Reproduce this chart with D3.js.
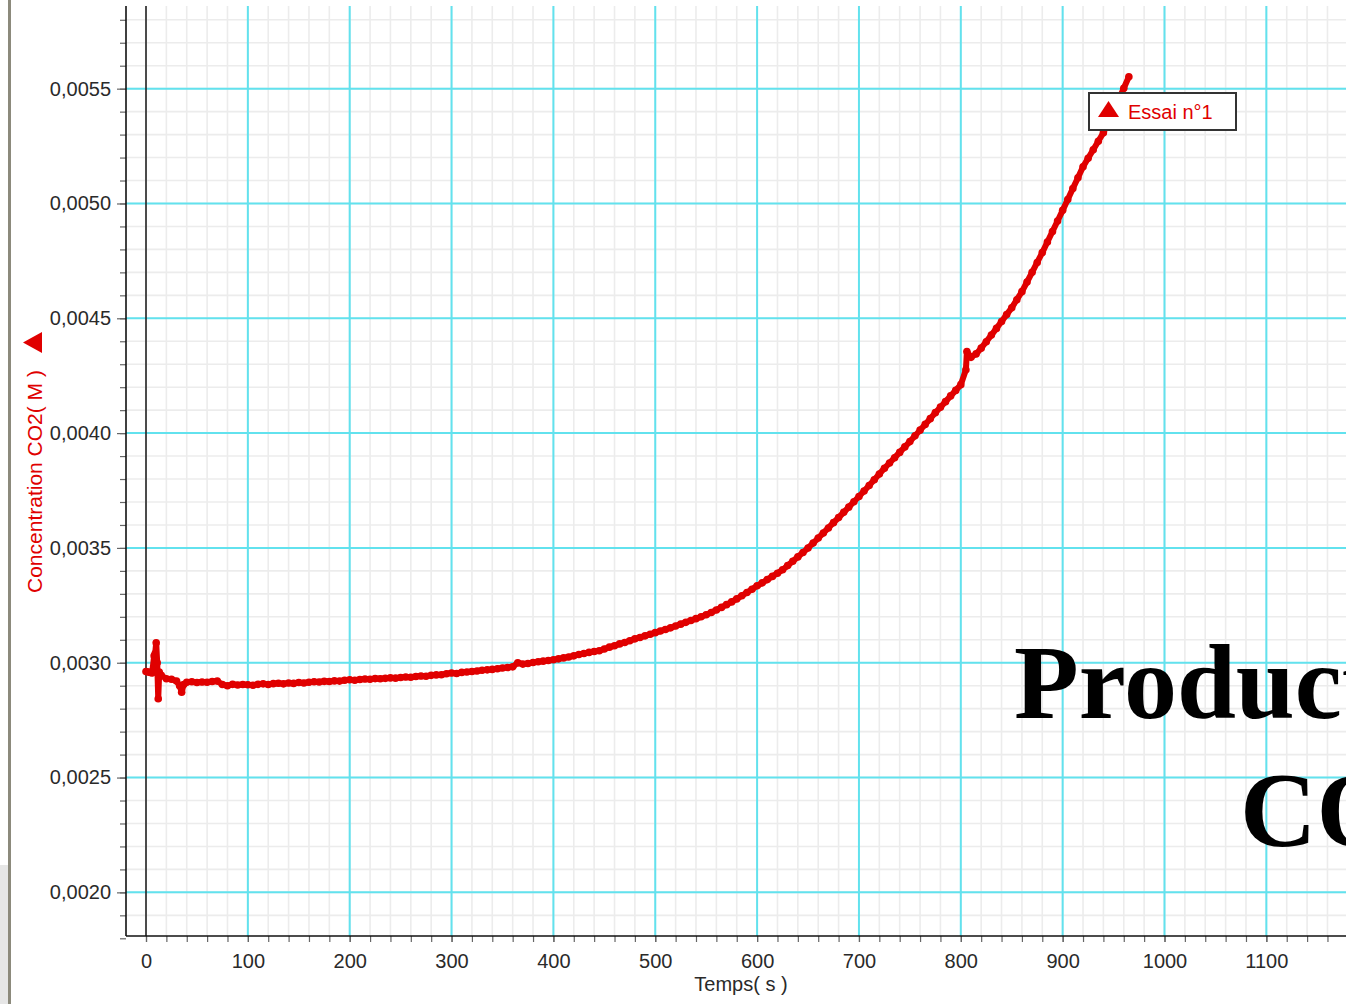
<!DOCTYPE html>
<html>
<head>
<meta charset="utf-8">
<script src="https://cdn.jsdelivr.net/npm/d3@7"></script>
<style>
  html, body { margin: 0; padding: 0; background: #ffffff; overflow: hidden; }
  svg { display: block; }
</style>
</head>
<body>
<svg id="chart" width="1346" height="1004"></svg>
<script>
// Temps (s) of each acquisition
const temps = [
  0, 2, 4, 6, 8, 9, 10, 11, 12, 13, 15, 20, 25, 30, 33, 35, 37, 40, 45, 50,
  55, 60, 65, 70, 75, 80, 85, 90, 95, 100, 105, 110, 115, 120, 125, 130, 135, 140, 145, 150,
  155, 160, 165, 170, 175, 180, 185, 190, 195, 200, 205, 210, 215, 220, 225, 230, 235, 240, 245, 250,
  255, 260, 265, 270, 275, 280, 285, 290, 295, 300, 305, 310, 315, 320, 325, 330, 335, 340, 345, 350,
  355, 360, 365, 370, 375, 380, 385, 390, 395, 400, 405, 410, 415, 420, 425, 430, 435, 440, 445, 450,
  455, 460, 465, 470, 475, 480, 485, 490, 495, 500, 505, 510, 515, 520, 525, 530, 535, 540, 545, 550,
  555, 560, 565, 570, 575, 580, 585, 590, 595, 600, 605, 610, 615, 620, 625, 630, 635, 640, 645, 650,
  655, 660, 665, 670, 675, 680, 685, 690, 695, 700, 705, 710, 715, 720, 725, 730, 735, 740, 745, 750,
  755, 760, 765, 770, 775, 780, 785, 790, 795, 800, 805, 806, 810, 815, 820, 825, 830, 835, 840, 845,
  850, 855, 860, 865, 870, 875, 880, 885, 890, 895, 900, 905, 910, 915, 920, 925, 930, 935, 940, 945,
  950, 955, 960, 965
];

// Concentration CO2 (mol/L), Essai n°1
const concentration = [
  0.002962, 0.002960, 0.002958, 0.002955, 0.003030, 0.003040, 0.003087, 0.003000, 0.002843, 0.002960,
  0.002945, 0.002930, 0.002928, 0.002920, 0.002900, 0.002872, 0.002905, 0.002915, 0.002917, 0.002914,
  0.002916, 0.002915, 0.002918, 0.002920, 0.002905, 0.002900, 0.002906, 0.002903, 0.002905, 0.002904,
  0.002902, 0.002906, 0.002908, 0.002905, 0.002909, 0.002911, 0.002908, 0.002912, 0.002910, 0.002914,
  0.002912, 0.002915, 0.002917, 0.002916, 0.002919, 0.002918, 0.002921, 0.002920, 0.002924, 0.002926,
  0.002924, 0.002927, 0.002929, 0.002928, 0.002931, 0.002930, 0.002932, 0.002934, 0.002933, 0.002936,
  0.002938, 0.002937, 0.002940, 0.002942, 0.002941, 0.002945, 0.002947, 0.002948, 0.002952, 0.002955,
  0.002953, 0.002958, 0.002960, 0.002962, 0.002964, 0.002967, 0.002969, 0.002971, 0.002974, 0.002977,
  0.002979, 0.002982, 0.003000, 0.002994, 0.002997, 0.003001, 0.003004, 0.003007, 0.003010, 0.003013,
  0.003017, 0.003021, 0.003025, 0.003030, 0.003036, 0.003040, 0.003045, 0.003049, 0.003052, 0.003060,
  0.003068, 0.003074, 0.003082, 0.003088, 0.003096, 0.003104, 0.003110, 0.003117, 0.003124, 0.003131,
  0.003138, 0.003145, 0.003152, 0.003160, 0.003168, 0.003176, 0.003184, 0.003192, 0.003200, 0.003209,
  0.003219, 0.003230, 0.003241, 0.003253, 0.003265, 0.003278, 0.003292, 0.003306, 0.003320, 0.003335,
  0.003348, 0.003362, 0.003376, 0.003390, 0.003405, 0.003423, 0.003442, 0.003461, 0.003480, 0.003500,
  0.003521, 0.003543, 0.003565, 0.003587, 0.003610, 0.003632, 0.003655, 0.003678, 0.003701, 0.003724,
  0.003748, 0.003772, 0.003797, 0.003822, 0.003847, 0.003870, 0.003893, 0.003916, 0.003940, 0.003963,
  0.003988, 0.004013, 0.004038, 0.004063, 0.004089, 0.004113, 0.004137, 0.004162, 0.004186, 0.004211,
  0.004276, 0.004355, 0.004330, 0.004345, 0.004370, 0.004398, 0.004427, 0.004456, 0.004486, 0.004516,
  0.004546, 0.004581, 0.004616, 0.004658, 0.004700, 0.004743, 0.004786, 0.004832, 0.004878, 0.004924,
  0.004970, 0.005017, 0.005065, 0.005112, 0.005160, 0.005197, 0.005234, 0.005271, 0.005308, 0.005356,
  0.005404, 0.005452, 0.005502, 0.005552
];

// Axis ticks
const xMajorTicks = [0, 100, 200, 300, 400, 500, 600, 700, 800, 900, 1000, 1100];
const xMinorTicks = d3.range(-20, 1200, 20);
const yMajorTicks = [0.0020, 0.0025, 0.0030, 0.0035, 0.0040, 0.0045, 0.0050, 0.0055];
const yMinorTicks = d3.range(18, 59).map(k => k / 10000);

const seriesName = "Essai n°1";
const xTitle = "Temps( s )";
const yTitle = "Concentration CO2( M )";
const overlayLines = ["Production", "CO2"];

const svg = d3.select("#chart");
const W = 1346, H = 1004;
const plot = { left: 126, top: 6, bottom: 936, right: 1346 };

const x = d3.scaleLinear().domain([-19.64, 1178.2]).range([plot.left, plot.right]);
const y = d3.scaleLinear().domain([0.00181, 0.00586]).range([plot.bottom, plot.top]);

const frLocale = d3.formatLocale({ decimal: ",", thousands: " ", grouping: [3], currency: ["", " €"] });
const fmtY = frLocale.format(".4f");

const red = "#e00000";
const font = "'Liberation Sans', Arial, sans-serif";

// window frame at the left
svg.append("rect").attr("x", 0).attr("y", 865).attr("width", 9).attr("height", H - 865).attr("fill", "#e6e6e6");
svg.append("rect").attr("x", 8).attr("y", 0).attr("width", 3).attr("height", H).attr("fill", "#8c8a7c");

svg.append("defs").append("clipPath").attr("id", "plotClip")
  .append("rect").attr("x", plot.left).attr("y", plot.top)
  .attr("width", plot.right - plot.left).attr("height", plot.bottom - plot.top);

const grid = svg.append("g").attr("clip-path", "url(#plotClip)");

// minor grid
grid.append("g").selectAll("line").data(xMinorTicks).join("line")
  .attr("x1", d => x(d)).attr("x2", d => x(d)).attr("y1", plot.top).attr("y2", plot.bottom)
  .attr("stroke", "#ececec").attr("stroke-width", 1.6);
grid.append("g").selectAll("line").data(yMinorTicks).join("line")
  .attr("y1", d => y(d)).attr("y2", d => y(d)).attr("x1", plot.left).attr("x2", plot.right)
  .attr("stroke", "#ececec").attr("stroke-width", 1.6);

// major grid
grid.append("g").selectAll("line").data(xMajorTicks.filter(d => d !== 0)).join("line")
  .attr("x1", d => x(d)).attr("x2", d => x(d)).attr("y1", plot.top).attr("y2", plot.bottom)
  .attr("stroke", "#62e2ee").attr("stroke-width", 2);
grid.append("g").selectAll("line").data(yMajorTicks).join("line")
  .attr("y1", d => y(d)).attr("y2", d => y(d)).attr("x1", plot.left).attr("x2", plot.right)
  .attr("stroke", "#62e2ee").attr("stroke-width", 2);

// vertical line at t = 0
grid.append("line").attr("x1", x(0)).attr("x2", x(0)).attr("y1", plot.top).attr("y2", plot.bottom)
  .attr("stroke", "#222").attr("stroke-width", 1.6);

// overlay title text
const over = svg.append("g").attr("font-family", "'Liberation Serif', 'Times New Roman', serif")
  .attr("font-weight", "bold").attr("font-size", 106).attr("fill", "#000");
over.append("text").attr("x", 1014).attr("y", 718).text(overlayLines[0]);
over.append("text").attr("x", 1240).attr("y", 846).text(overlayLines[1]);

// data series
const pts = temps.map((t, i) => [t, concentration[i]]);
const series = svg.append("g").attr("clip-path", "url(#plotClip)");
series.append("path").datum(pts)
  .attr("d", d3.line().x(d => x(d[0])).y(d => y(d[1])))
  .attr("fill", "none").attr("stroke", red).attr("stroke-width", 6).attr("stroke-linejoin", "round")
  .attr("stroke-linecap", "round");
series.append("g").selectAll("circle").data(pts).join("circle")
  .attr("cx", d => x(d[0])).attr("cy", d => y(d[1])).attr("r", 3.8).attr("fill", red);

// axes
const yAxisMinor = d3.axisLeft(y).tickValues(yMinorTicks).tickSize(6).tickFormat("");
const yAxis = d3.axisLeft(y).tickValues(yMajorTicks).tickSize(9).tickPadding(6).tickFormat(fmtY);
const xAxisMinor = d3.axisBottom(x).tickValues(xMinorTicks.filter(d => d >= -10)).tickSize(6).tickFormat("");
const xAxis = d3.axisBottom(x).tickValues(xMajorTicks).tickSize(6).tickPadding(12).tickFormat(d3.format("d"));

function styleAxis(g) {
  g.select(".domain").remove();
  g.selectAll(".tick line").attr("stroke", "#666").attr("stroke-width", 1.2);
  g.selectAll(".tick text").attr("fill", "#2a2a2a").attr("font-family", font).attr("font-size", 20);
}

svg.append("g").attr("transform", `translate(${plot.left},0)`).call(yAxisMinor).call(styleAxis);
svg.append("g").attr("transform", `translate(${plot.left},0)`).call(yAxis).call(styleAxis);
svg.append("g").attr("transform", `translate(0,${plot.bottom})`).call(xAxisMinor).call(styleAxis);
svg.append("g").attr("transform", `translate(0,${plot.bottom})`).call(xAxis).call(styleAxis);

// axis lines
svg.append("line").attr("x1", plot.left).attr("x2", plot.left).attr("y1", plot.top).attr("y2", plot.bottom)
  .attr("stroke", "#111").attr("stroke-width", 1.6);
svg.append("line").attr("x1", plot.left).attr("x2", plot.right).attr("y1", plot.bottom).attr("y2", plot.bottom)
  .attr("stroke", "#111").attr("stroke-width", 1.6);

// axis titles
svg.append("text").attr("x", 741).attr("y", 991).attr("text-anchor", "middle")
  .attr("font-family", font).attr("font-size", 20).attr("fill", "#2a2a2a").text(xTitle);

const yt = svg.append("g").attr("transform", "translate(42,593) rotate(-90)");
yt.append("text").attr("x", 0).attr("y", 0).attr("font-family", font).attr("font-size", 21)
  .attr("fill", red).text(yTitle);
// series marker after the title (points up along the rotated text)
yt.append("path").attr("d", "M240,0 L261,0 L250.5,-19 Z").attr("fill", red);

// legend
const lg = svg.append("g");
lg.append("rect").attr("x", 1089).attr("y", 93).attr("width", 147).attr("height", 37)
  .attr("fill", "#fff").attr("stroke", "#333").attr("stroke-width", 2);
lg.append("path").attr("d", "M1098,117 L1119,117 L1108.5,101 Z").attr("fill", red);
lg.append("text").attr("x", 1128).attr("y", 119).attr("font-family", font).attr("font-size", 20)
  .attr("fill", red).text(seriesName);
</script>
</body>
</html>
